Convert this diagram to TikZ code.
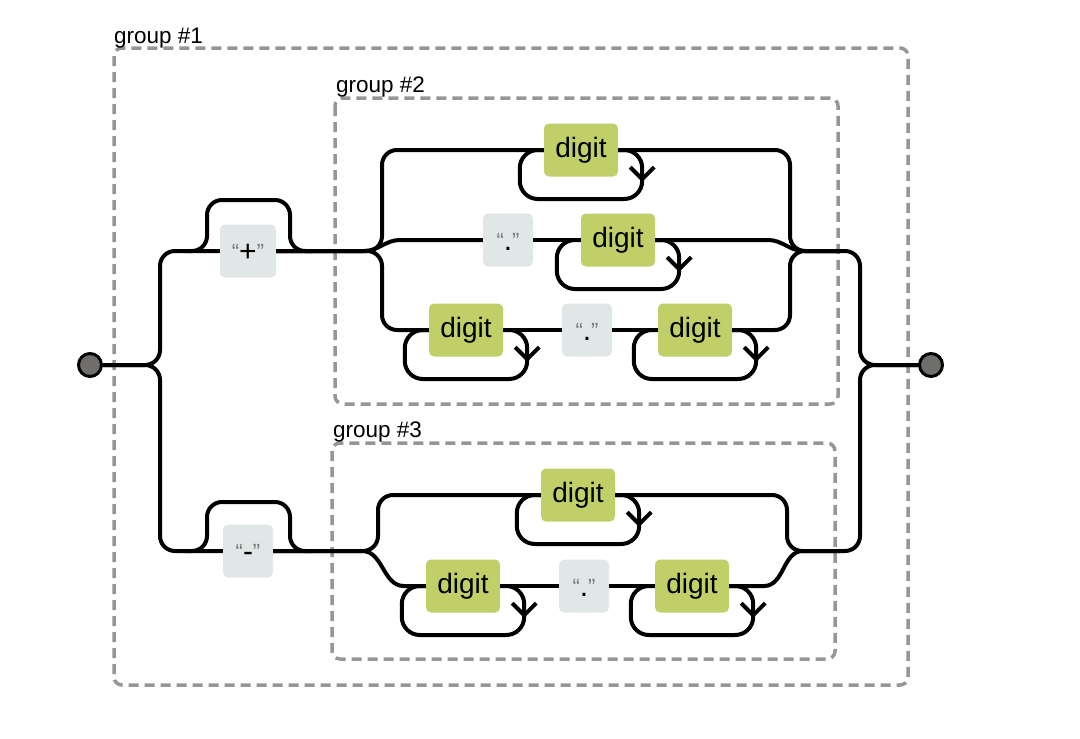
\documentclass[tikz,border=0pt]{standalone}
\usepackage{fontspec}
\setmainfont{Liberation Sans}
\usepackage{tikz}
\usetikzlibrary{arrows.meta}

\definecolor{digitgreen}{RGB}{193,207,104}
\definecolor{termgray}{RGB}{225,231,231}
\definecolor{quotegray}{RGB}{120,120,120}
\definecolor{boxgray}{RGB}{150,150,150}
\definecolor{endgray}{RGB}{112,110,106}

\newcommand{\quoted}[1]{{\color{quotegray}\fontsize{22}{22}\selectfont\raisebox{2pt}{“}}#1{\color{quotegray}\fontsize{22}{22}\selectfont\raisebox{2pt}{”}}}

\tikzset{
  rail/.style={line width=4pt, rounded corners=15pt},
  loopback/.style={line width=4pt, rounded corners=18pt},
  groupbox/.style={draw=boxgray, line width=3.5pt, dash pattern=on 10pt off 6pt, rounded corners=8pt},
  grouplabel/.style={anchor=base west, inner sep=0pt, font=\fontsize{22.5}{22.5}\selectfont},
  digitbox/.style={fill=digitgreen, rounded corners=5pt, minimum width=74pt, minimum height=53pt, inner sep=0pt, font=\fontsize{28}{28}\selectfont},
  termbox/.style={fill=termgray, rounded corners=5pt, minimum width=50pt, minimum height=53pt, inner sep=0pt, text height=24pt, text depth=4pt, font=\fontsize{30}{30}\selectfont},
  endpoint/.style={circle, draw, line width=3pt, fill=endgray, minimum size=23pt, inner sep=0pt},
}

\begin{document}
\begin{tikzpicture}[x=1pt,y=-1pt]
    \useasboundingbox (0,0) rectangle (1080,739);

    % groups
    \draw[groupbox] (114,48) rectangle (908,685);
    \draw[groupbox] (335,98) rectangle (838,404);
    \draw[groupbox] (332,443) rectangle (835,659);
    \node[grouplabel] (lbl1) at (114,43) {group \#1};
    \node[grouplabel] (lbl2) at (336,92) {group \#2};
    \node[grouplabel] (lbl3) at (333,437) {group \#3};

    % end points
    \node[endpoint] (start) at (90,365) {};
    \node[endpoint] (stop) at (931,365) {};

    % sign
    \node[termbox, minimum width=56pt] (plus) at (248,251) {\quoted{+}};
    \node[termbox] (minus) at (248,551) {\quoted{-}};

    % group 2
    \node[digitbox] (d1) at (581,150) {digit};
    \node[termbox] (dot1) at (508,240) {\quoted{.}};
    \node[digitbox] (d2) at (618,240) {digit};
    \node[digitbox] (d3) at (466,330) {digit};
    \node[termbox] (dot2) at (587,330) {\quoted{.}};
    \node[digitbox] (d4) at (695,330) {digit};

    % group 3
    \node[digitbox] (d5) at (578,495) {digit};
    \node[digitbox] (d6) at (463,586) {digit};
    \node[termbox] (dot3) at (584,586) {\quoted{.}};
    \node[digitbox] (d7) at (692,586) {digit};

    % outer split
    \draw[rail] (start.east) -- (160,365) -- (160,251) -- (plus.west);
    \draw[rail] (start.east) -- (160,365) -- (160,551) -- (minus.west);
    \draw[rail] (185,251) -- (207,251) -- (207,200) -- (290,200) -- (290,251) -- (312,251);
    \draw[rail] (185,551) -- (207,551) -- (207,502) -- (290,502) -- (290,551) -- (312,551);

    % group 2 rails
    \draw[rail] (plus.east) -- (382,251) -- (382,150) -- (d1.west);
    \draw[rail] (plus.east) -- (382,251) -- (382,330) -- (d3.west);
    \draw[rail, sharp corners] (plus.east) -- (364,251) to[out=0,in=180] (400,240) -- (dot1.west);
    \draw[rail] (dot1.east) -- (d2.west);
    \draw[rail] (d3.east) -- (dot2.west);
    \draw[rail] (dot2.east) -- (d4.west);
    \draw[rail] (d1.east) -- (790,150) -- (790,251) -- (860,251) -- (860,365) -- (stop.west);
    \draw[rail] (d4.east) -- (790,330) -- (790,251) -- (840,251);
    \draw[rail, sharp corners] (d2.east) -- (768,240) to[out=0,in=180] (804,251) -- (840,251);

    % group 3 rails
    \draw[rail] (minus.east) -- (378,551) -- (378,495) -- (d5.west);
    \draw[rail, sharp corners] (minus.east) -- (362,551) to[out=0,in=180] (404,586) -- (d6.west);
    \draw[rail] (d6.east) -- (dot3.west);
    \draw[rail] (dot3.east) -- (d7.west);
    \draw[rail] (d5.east) -- (787,495) -- (787,551) -- (860,551) -- (860,365) -- (stop.west);
    \draw[rail, sharp corners] (d7.east) -- (764,586) to[out=0,in=180] (803,551) -- (840,551);

    % repeat loops
    \draw[loopback, -{Straight Barb[length=12pt,width=24pt]}] (d1.east) -- ++(24,0) -- ++(0,32);
    \draw[loopback] (d1.east) ++(24,25) -- ++(0,24) -| ([xshift=-24pt]d1.west) -- (d1.west);
    \draw[loopback, -{Straight Barb[length=12pt,width=24pt]}] (d2.east) -- ++(24,0) -- ++(0,32);
    \draw[loopback] (d2.east) ++(24,25) -- ++(0,24) -| ([xshift=-24pt]d2.west) -- (d2.west);
    \draw[loopback, -{Straight Barb[length=12pt,width=24pt]}] (d3.east) -- ++(24,0) -- ++(0,32);
    \draw[loopback] (d3.east) ++(24,25) -- ++(0,24) -| ([xshift=-24pt]d3.west) -- (d3.west);
    \draw[loopback, -{Straight Barb[length=12pt,width=24pt]}] (d4.east) -- ++(24,0) -- ++(0,32);
    \draw[loopback] (d4.east) ++(24,25) -- ++(0,24) -| ([xshift=-24pt]d4.west) -- (d4.west);
    \draw[loopback, -{Straight Barb[length=12pt,width=24pt]}] (d5.east) -- ++(24,0) -- ++(0,32);
    \draw[loopback] (d5.east) ++(24,25) -- ++(0,24) -| ([xshift=-24pt]d5.west) -- (d5.west);
    \draw[loopback, -{Straight Barb[length=12pt,width=24pt]}] (d6.east) -- ++(24,0) -- ++(0,32);
    \draw[loopback] (d6.east) ++(24,25) -- ++(0,24) -| ([xshift=-24pt]d6.west) -- (d6.west);
    \draw[loopback, -{Straight Barb[length=12pt,width=24pt]}] (d7.east) -- ++(24,0) -- ++(0,32);
    \draw[loopback] (d7.east) ++(24,25) -- ++(0,24) -| ([xshift=-24pt]d7.west) -- (d7.west);
\end{tikzpicture}
\end{document}
